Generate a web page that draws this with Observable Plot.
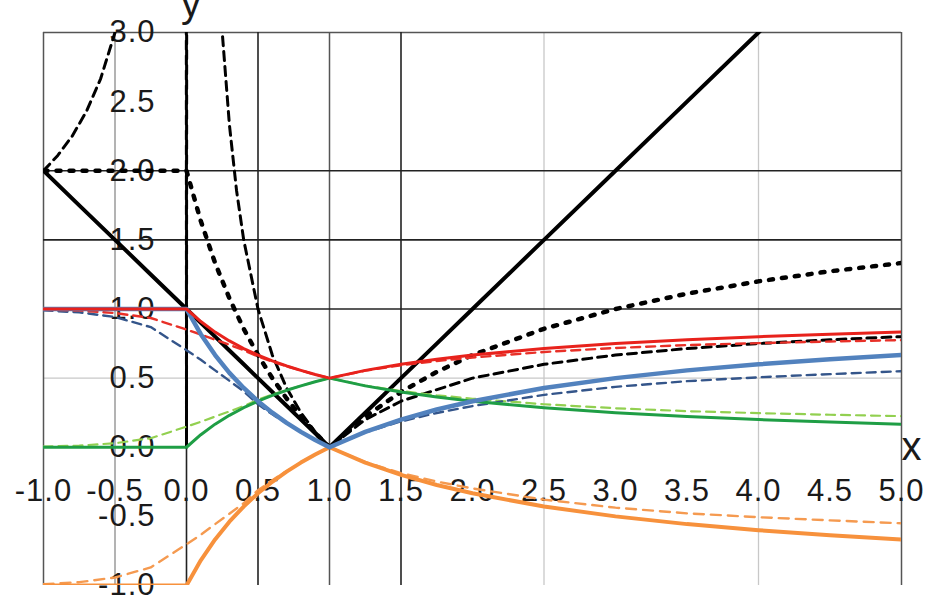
<!DOCTYPE html>
<html>
<head>
<meta charset="utf-8">
<script src="https://cdn.jsdelivr.net/npm/d3@7"></script>
<script src="https://cdn.jsdelivr.net/npm/@observablehq/plot@0.6"></script>
<style>
  html, body { margin: 0; padding: 0; background: #fff; overflow: hidden; }
  svg text { letter-spacing: 1px; }
</style>
</head>
<body>
<div id="chart"></div>
<script>
// ---- tick labels / grid positions ----
const xTicks = [-1, -0.5, 0, 0.5, 1, 1.5, 2, 2.5, 3, 3.5, 4, 4.5, 5];
const yTicks = [3, 2.5, 2, 1.5, 1, 0.5, 0, -0.5, -1];
const gridXBlack = [0, 0.5, 1.5];
const gridXDark = [-1, 1, 5];
const gridXMid = [-0.5];
const gridXLight = [2.5, 4];
const gridYBlack = [2, 1.5, 1];
const gridYDark = [3];
const gridYLight = [0.5];
const axisNames = ["x", "y"];

// ---- common x grid ----
const X = [-1, -0.75, -0.5, -0.25, 0, 0.1, 0.2, 0.3, 0.4, 0.5, 0.6, 0.7, 0.8, 0.9, 1, 1.25, 1.5, 1.75, 2, 2.5, 3, 3.5, 4, 4.5, 5];

// black solid
const blackSolid = [2, 1.75, 1.5, 1.25, 1, 0.9, 0.8, 0.7, 0.6, 0.5, 0.4, 0.3, 0.2, 0.1, 0, 0.25, 0.5, 0.75, 1, 1.5, 2, 2.5, 3, 3.5, 4];
// black dotted
const blackDotted = [2, 2, 2, 2, 2, 1.636, 1.333, 1.077, 0.857, 0.667, 0.5, 0.353, 0.222, 0.105, 0, 0.222, 0.4, 0.545, 0.667, 0.857, 1, 1.111, 1.2, 1.273, 1.333];
// black dashed (own x grid, spikes at x = 0)
const XD = [-1, -0.9, -0.8, -0.7, -0.6, -0.5, -0.45, -0.4, -0.3, -0.02, 0, 0.02, 0.2, 0.25, 0.3, 0.35, 0.4, 0.5, 0.6, 0.7, 0.8, 0.9, 1, 1.25, 1.5, 2, 2.5, 3, 3.5, 4, 4.5, 5];
const blackDashed = [2, 2.111, 2.25, 2.429, 2.667, 3, 3.222, 3.5, 4.333, 51, 0, 49, 4, 3, 2.333, 1.857, 1.5, 1, 0.667, 0.429, 0.25, 0.111, 0, 0.2, 0.333, 0.5, 0.6, 0.667, 0.714, 0.75, 0.778, 0.8];

// coloured solid
const blueSolid = [1, 1, 1, 1, 1, 0.818, 0.667, 0.538, 0.429, 0.333, 0.25, 0.176, 0.111, 0.053, 0, 0.111, 0.2, 0.273, 0.333, 0.429, 0.5, 0.556, 0.6, 0.636, 0.667];
const redSolid = [1, 1, 1, 1, 1, 0.909, 0.833, 0.769, 0.714, 0.667, 0.625, 0.588, 0.556, 0.526, 0.5, 0.556, 0.6, 0.636, 0.667, 0.714, 0.75, 0.778, 0.8, 0.818, 0.833];
const greenSolid = [0, 0, 0, 0, 0, 0.091, 0.167, 0.231, 0.286, 0.333, 0.375, 0.412, 0.444, 0.474, 0.5, 0.444, 0.4, 0.364, 0.333, 0.286, 0.25, 0.222, 0.2, 0.182, 0.167];
const orangeSolid = [-1, -1, -1, -1, -1, -0.818, -0.667, -0.538, -0.429, -0.333, -0.25, -0.176, -0.111, -0.053, 0, -0.111, -0.2, -0.273, -0.333, -0.429, -0.5, -0.556, -0.6, -0.636, -0.667];

// coloured dashed
const blueDashed = [0.99, 0.976, 0.942, 0.869, 0.702, 0.633, 0.556, 0.481, 0.404, 0.311, 0.238, 0.173, 0.111, 0.053, 0, 0.107, 0.187, 0.248, 0.298, 0.379, 0.437, 0.478, 0.506, 0.529, 0.55];
const redDashed = [0.995, 0.988, 0.971, 0.935, 0.851, 0.816, 0.778, 0.741, 0.702, 0.656, 0.619, 0.587, 0.556, 0.526, 0.5, 0.554, 0.593, 0.624, 0.649, 0.689, 0.718, 0.739, 0.753, 0.765, 0.775];
const greenDashed = [0.005, 0.012, 0.029, 0.065, 0.149, 0.184, 0.222, 0.259, 0.298, 0.344, 0.381, 0.413, 0.444, 0.474, 0.5, 0.446, 0.407, 0.376, 0.351, 0.311, 0.282, 0.261, 0.247, 0.235, 0.225];
const orangeDashed = [-0.99, -0.976, -0.942, -0.869, -0.702, -0.633, -0.556, -0.481, -0.404, -0.311, -0.238, -0.173, -0.111, -0.053, 0, -0.107, -0.187, -0.248, -0.298, -0.379, -0.437, -0.478, -0.506, -0.529, -0.55];

const rows = (xs, ys) => xs.map((x, i) => ({x, y: ys[i]}));
const FONT = "'Liberation Sans', Arial, Helvetica, sans-serif";
const line = (xs, ys, opts) => Plot.line(rows(xs, ys), {x: "x", y: "y", clip: true, strokeLinejoin: "round", ...opts});

const chart = Plot.plot({
  width: 928,
  height: 598,
  marginLeft: 43,
  marginRight: 27,
  marginTop: 32,
  marginBottom: 13,
  x: {domain: [-1, 5], axis: null},
  y: {domain: [-1, 3], axis: null},
  style: {fontFamily: FONT, background: "#fff", overflow: "visible"},
  marks: [
    // grid
    Plot.ruleX(gridXLight, {stroke: "#c8c8c8", strokeWidth: 1.3}),
    Plot.ruleY(gridYLight, {stroke: "#c8c8c8", strokeWidth: 1.3}),
    Plot.ruleX(gridXMid, {stroke: "#8a8a8a", strokeWidth: 1.3}),
    Plot.ruleX(gridXDark, {stroke: "#555", strokeWidth: 1.5}),
    Plot.ruleY(gridYDark, {stroke: "#555", strokeWidth: 1.5}),
    Plot.ruleX(gridXBlack, {stroke: "#222", strokeWidth: 1.6}),
    Plot.ruleY(gridYBlack, {stroke: "#222", strokeWidth: 1.6}),

    // tick labels
    Plot.text(yTicks, {x: 0, y: d => d, dx: -31, textAnchor: "end", text: d => d.toFixed(1),
      fontSize: 31, fill: "#1a1a1a", fontFamily: FONT}),
    Plot.text(xTicks, {x: d => d, y: 0, dy: 44, text: d => d.toFixed(1),
      fontSize: 31, fill: "#1a1a1a", fontFamily: FONT}),
    Plot.text([axisNames[0]], {x: 5, y: 0, dx: 0, textAnchor: "start", text: d => d,
      fontSize: 40, fill: "#1a1a1a", fontFamily: FONT}),
    Plot.text([axisNames[1]], {x: 0, y: 3, dx: 5, dy: -28, text: d => d,
      fontSize: 40, fill: "#1a1a1a", fontFamily: FONT}),

    // black curves
    line(X, blackSolid, {stroke: "#000", strokeWidth: 4}),
    line(XD, blackDashed, {stroke: "#000", strokeWidth: 3, strokeDasharray: "9,6"}),
    line(X, blackDotted, {stroke: "#000", strokeWidth: 4.5, strokeDasharray: "4,9"}),

    // coloured dashed
    line(X, greenDashed, {stroke: "#92d050", strokeWidth: 2.2, strokeDasharray: "9,6"}),
    line(X, orangeDashed, {stroke: "#f59a50", strokeWidth: 2.4, strokeDasharray: "10,7"}),
    line(X, blueDashed, {stroke: "#34558a", strokeWidth: 2.4, strokeDasharray: "9,6"}),
    line(X, redDashed, {stroke: "#e83028", strokeWidth: 2.4, strokeDasharray: "9,6"}),

    // coloured solid
    line(X, greenSolid, {stroke: "#1f9e45", strokeWidth: 3}),
    line(X, orangeSolid, {stroke: "#f7913c", strokeWidth: 4}),
    line(X, blueSolid, {stroke: "#5282be", strokeWidth: 4.5}),
    line(X, redSolid, {stroke: "#e8221c", strokeWidth: 3})
  ]
});
document.getElementById("chart").appendChild(chart);
</script>
</body>
</html>
